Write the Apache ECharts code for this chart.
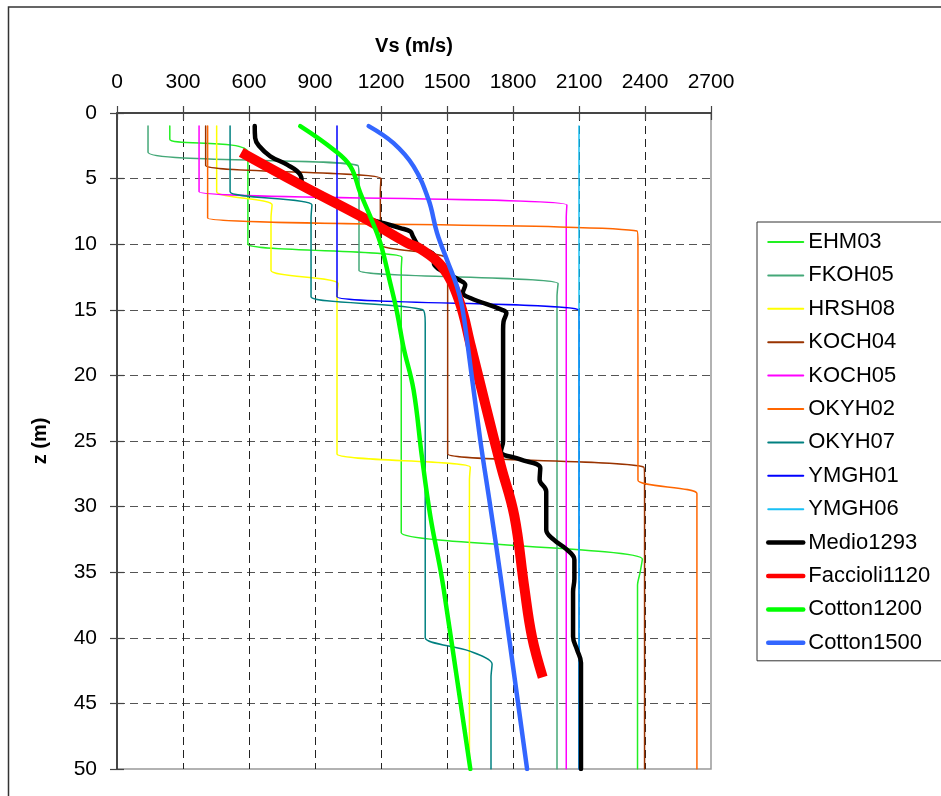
<!DOCTYPE html>
<html><head><meta charset="utf-8">
<script src="https://cdn.jsdelivr.net/npm/echarts@6/dist/echarts.min.js"></script>
<style>html,body{margin:0;padding:0;background:#fff}#c{width:941px;height:796px}</style>
</head><body><div id="c"></div>
<script>
// Axis ticks
const vsTicks = [0, 300, 600, 900, 1200, 1500, 1800, 2100, 2400, 2700];
const zTicks = [0, 5, 10, 15, 20, 25, 30, 35, 40, 45, 50];

// Series names (legend order)
const seriesNames = ['EHM03','FKOH05','HRSH08','KOCH04','KOCH05','OKYH02','OKYH07','YMGH01','YMGH06','Medio1293','Faccioli1120','Cotton1200','Cotton1500'];

// Profiles: [Vs (m/s), z (m)]
const EHM03 = [[240,1],[240,2],[595,3],[595,9],[595,10],[1295,11],[1292,12],[1292,31],[1292,32],[2388,34],[2378,35],[2366,36],[2366,50]];
const FKOH05 = [[141,1],[141,3],[1095,4],[1100,5],[1100,11],[1100,12],[2005,13],[2000,14],[2000,50]];
const HRSH08 = [[453,1],[453,5],[453,6],[705,7],[700,8],[700,11],[700,12],[1005,13],[1000,14],[1000,25],[1000,26],[1606,27],[1602,28],[1602,50]];
const KOCH04 = [[403,1],[403,3],[403,4],[1200,5],[1197,6],[1197,9],[1197,10],[1495,11],[1503,12],[1503,25],[1503,26],[2395,27],[2398,28],[2398,50]];
const KOCH05 = [[373,1],[373,5],[373,6],[2045,7],[2042,8],[2042,50]];
const OKYH02 = [[412,1],[412,7],[412,8],[2364,9],[2368,10],[2368,27],[2368,28],[2636,29],[2636,30],[2636,50]];
const OKYH07 = [[514,1],[514,5],[514,6],[886,7],[882,8],[882,13],[882,14],[1390,15],[1401,16],[1401,39],[1401,40],[1600,41],[1705,42],[1700,43],[1700,50]];
const YMGH01 = [[1000,1],[1000,13],[1000,14],[2098,15],[2100,16],[2100,50]];
const YMGH06 = [[2100,1],[2100,50]];
const Medio1293 = [[626,1],[628,1.9],[645,2.5],[697,3.3],[773,3.94],[833,4.7],[844,5.6],[875,6.0],[924,6.25],[1106,7.9],[1182,8.26],[1288,8.77],[1333,9.02],[1345,9.4],[1379,10.3],[1432,10.67],[1447,11.2],[1440,11.4],[1553,12.7],[1583,13.1],[1572,13.7],[1606,14.1],[1750,15.0],[1770,15.25],[1757,15.9],[1755,16.5],[1755,25.0],[1745,25.8],[1833,26.4],[1924,27.06],[1921,27.95],[1951,28.84],[1951,31.76],[1985,32.52],[2045,33.28],[2079,34.05],[2079,35.5],[2073,36.5],[2073,39.9],[2091,40.9],[2109,41.9],[2109,50]];
const Faccioli1120 = [[565,3],[833,5.46],[1136,8.13],[1318,9.9],[1379,10.35],[1477,11.7],[1553,14.2],[1609,17.8],[1677,22.4],[1745,26.9],[1806,30.7],[1851,36.1],[1886,39.9],[1935,43]];
const Cotton1200 = [[833,1],[985,2.8],[1061,4.07],[1106,6.1],[1151,7.88],[1197,9.9],[1242,12.96],[1273,15.2],[1303,17.9],[1348,21.1],[1386,26.2],[1424,30.7],[1470,34.8],[1485,36.3],[1606,50]];
const Cotton1500 = [[1144,1],[1257,2.3],[1348,4.07],[1416,6.6],[1455,9.15],[1500,11.2],[1545,13.2],[1568,14.7],[1591,17.3],[1651,24.9],[1697,30.0],[1745,35.5],[1864,50]];

const seriesData = [EHM03,FKOH05,HRSH08,KOCH04,KOCH05,OKYH02,OKYH07,YMGH01,YMGH06,Medio1293,Faccioli1120,Cotton1200,Cotton1500];

// Styles
const colors = ['#22f022','#44a878','#ffff00','#993300','#ff00ff','#ff6600','#008080','#0000ff','#19c0f5','#000000','#ff0000','#00ff00','#3366ff'];
const widths = [1.5,1.5,1.5,1.5,1.5,1.5,1.5,1.5,1.5,4.5,10,4.5,4.5];
const legendWidths = [2,2,2,2,2,2,2,2,2,4.5,4.5,4.5,4.5];

const chart = echarts.init(document.getElementById('c'), null, {renderer:'canvas'});
const FONT = 'Liberation Sans, Arial, sans-serif';

const series = seriesNames.map((n,i)=>({
  name:n, type:'line', data:seriesData[i], xAxisIndex:0, yAxisIndex:0,
  symbol:'none', showSymbol:false, smooth: i>=9 ? 0.4 : 0.3,
  lineStyle:{color:colors[i], width:widths[i], cap: i===10 ? 'butt' : 'round', join:'round'},
  itemStyle:{color:colors[i]},
  emphasis:{disabled:true}, silent:true, z: 2
}));

const axisCommonX = {type:'value', min:vsTicks[0], max:vsTicks[vsTicks.length-1], interval:vsTicks[1]-vsTicks[0]};
const axisCommonY = {type:'value', min:zTicks[0], max:zTicks[zTicks.length-1], interval:zTicks[1]-zTicks[0], inverse:true};
const plain = v => String(v);

chart.setOption({
  animation:false,
  backgroundColor:'#fff',
  textStyle:{fontFamily:FONT},
  graphic:[{type:'rect', shape:{x:8.5, y:7, width:1000, height:1000}, style:{fill:'none', stroke:'#333', lineWidth:1.5}, silent:true, z:-10}],
  grid:{left:117, top:113, width:594, height:656, containLabel:false, outerBoundsMode:'none', show:true, borderColor:'#999', borderWidth:1.5, backgroundColor:'transparent'},
  legend:{
    orient:'vertical', left:757, top:222, itemWidth:35, itemHeight:14, itemGap:11.4,
    padding:[9,22,7,9], borderColor:'#333', borderWidth:1, backgroundColor:'#fff',
    textStyle:{fontFamily:FONT, fontSize:22, color:'#000', lineHeight:21},
    selectedMode:false,
    itemStyle:{opacity:0, borderWidth:0},
    data: seriesNames.map((n,i)=>({name:n, itemStyle:{opacity:0, borderWidth:0}, lineStyle:{width:legendWidths[i], color:colors[i], cap:'round'}}))
  },
  xAxis:[
    Object.assign({}, axisCommonX, {
      position:'top', name:'Vs (m/s)', nameLocation:'middle', nameGap:57,
      nameTextStyle:{fontFamily:FONT, fontSize:20, fontWeight:'bold', color:'#000'},
      axisLine:{show:true, lineStyle:{color:'#222', width:1.5}},
      axisTick:{show:true, inside:false, length:7, lineStyle:{color:'#444', width:1.2}},
      axisLabel:{show:true, margin:20, fontFamily:FONT, fontSize:21, color:'#000', formatter:plain},
      splitLine:{show:true, showMinLine:false, showMaxLine:false, lineStyle:{color:'#222', width:1, type:[8,5]}}
    }),
    Object.assign({}, axisCommonX, {
      position:'top', offset:0,
      axisLine:{show:false}, axisLabel:{show:false}, splitLine:{show:false},
      axisTick:{show:true, inside:true, length:7, lineStyle:{color:'#444', width:1.2}}
    })
  ],
  yAxis:[
    Object.assign({}, axisCommonY, {
      position:'left', name:'z (m)', nameLocation:'middle', nameGap:67,
      nameTextStyle:{fontFamily:FONT, fontSize:20, fontWeight:'bold', color:'#000'},
      axisLine:{show:true, lineStyle:{color:'#222', width:1.5}},
      axisTick:{show:true, inside:false, length:7, lineStyle:{color:'#444', width:1.2}},
      axisLabel:{show:true, margin:20, fontFamily:FONT, fontSize:21, color:'#000', formatter:plain},
      splitLine:{show:true, showMinLine:false, showMaxLine:false, lineStyle:{color:'#555', width:1, type:[8,5]}}
    }),
    Object.assign({}, axisCommonY, {
      position:'left', offset:0,
      axisLine:{show:false}, axisLabel:{show:false}, splitLine:{show:false},
      axisTick:{show:true, inside:true, length:7, lineStyle:{color:'#444', width:1.2}}
    })
  ],
  series: series
});
</script></body></html>
